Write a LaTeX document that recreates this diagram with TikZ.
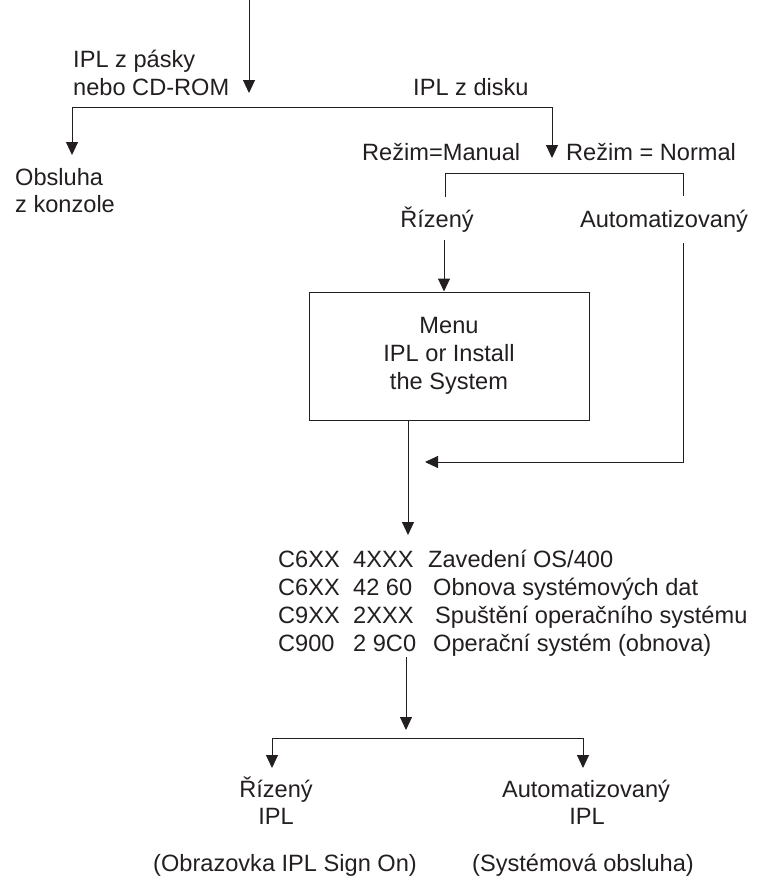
\documentclass[tikz,border=0pt]{standalone}
\usepackage{fontspec}
\setmainfont{Liberation Sans}
\usetikzlibrary{arrows.meta}
\definecolor{ink}{HTML}{231F20}
\begin{document}
\begin{tikzpicture}[x=1pt,y=-1pt,
  every node/.style={inner sep=0pt, text=ink, font=\fontsize{23.6}{28}\selectfont},
  lbl/.style={anchor=base west},
  ctr/.style={anchor=base},
  wire/.style={draw=ink, line width=1pt},
  flow/.style={wire, -{Triangle[width=12pt,length=13pt]}},
  panel/.style={draw=ink, line width=1pt, minimum width=280pt, minimum height=128pt, align=center}
]
\useasboundingbox (0,0) rectangle (756,884);

% --- entry and first split -------------------------------------------
\coordinate (entry) at (249,0);
\coordinate (entryTip) at (249,93);
\coordinate (splitL) at (72,107);
\coordinate (splitR) at (552,107);
\coordinate (consoleTip) at (72,155);
\coordinate (diskTip) at (552,158);

\draw[flow] (entry) -- (entryTip);
\draw[wire] (splitL) -- (splitR);
\draw[flow] (splitL) -- (consoleTip);
\draw[flow] (splitR) -- (diskTip);

\node[lbl] (tape1) at (73,67) {IPL z pásky};
\node[lbl] (tape2) at (73,95) {nebo CD-ROM};
\node[lbl] (disk) at (413,95) {IPL z disku};
\node[lbl] (console1) at (15,185) {Obsluha};
\node[lbl] (console2) at (15,212) {z konzole};

\node[lbl] (modeM) at (362,160) {Režim=Manual};
\node[lbl] (modeN) at (566,160) {Režim = Normal};

% --- mode bracket --------------------------------------------------------
\coordinate (brL) at (445,197);
\coordinate (brLt) at (445,173);
\coordinate (brRt) at (683,173);
\coordinate (brR) at (683,196);
\draw[wire] (brL) -- (brLt) -- (brRt) -- (brR);

\node[ctr] (manual) at (437,227) {Řízený};
\node[ctr] (auto) at (664,227) {Automatizovaný};

% --- menu box ------------------------------------------------------------
\coordinate (manualOut) at (444,240);
\node[panel] (menu) at (449,356) {Menu\\IPL or Install\\the System};
\draw[flow] (manualOut) -- (menu.north -| manualOut);

\coordinate (menuOut) at (408,420);
\coordinate (codesTip) at (408,535);
\draw[flow] (menuOut) -- (codesTip);

\coordinate (autoOut) at (683,243);
\coordinate (autoBend) at (683,462);
\coordinate (autoTip) at (425,462);
\draw[flow] (autoOut) -- (autoBend) -- (autoTip);

% --- reference codes -----------------------------------------------------
\node[lbl] (c1a) at (278,567) {C6XX};
\node[lbl] (c1b) at (353,567) {4XXX};
\node[lbl] (c1c) at (428,567) {Zavedení OS/400};
\node[lbl] (c2a) at (278,595) {C6XX};
\node[lbl] (c2b) at (353,595) {42 60};
\node[lbl] (c2c) at (433,595) {Obnova systémových dat};
\node[lbl] (c3a) at (278,623) {C9XX};
\node[lbl] (c3b) at (353,623) {2XXX};
\node[lbl] (c3c) at (435,623) {Spuštění operačního systému};
\node[lbl] (c4a) at (278,651) {C900};
\node[lbl] (c4b) at (353,651) {2 9C0};
\node[lbl] (c4c) at (433,651) {Operační systém (obnova)};

% --- final split ---------------------------------------------------------
\coordinate (codesOut) at (406,657);
\coordinate (codesOutTip) at (406,730);
\draw[flow] (codesOut) -- (codesOutTip);

\coordinate (finL) at (272,738);
\coordinate (finR) at (583,738);
\coordinate (finLTip) at (272,768);
\coordinate (finRTip) at (583,768);
\draw[wire] (finL) -- (finR);
\draw[flow] (finL) -- (finLTip);
\draw[flow] (finR) -- (finRTip);

\node[ctr] (manIPL1) at (276,797) {Řízený};
\node[ctr] (manIPL2) at (276,824) {IPL};
\node[ctr] (autoIPL1) at (586,797) {Automatizovaný};
\node[ctr] (autoIPL2) at (587,824) {IPL};
\node[ctr] (manNote) at (285,871) {(Obrazovka IPL Sign On)};
\node[ctr] (autoNote) at (583,871) {(Systémová obsluha)};
\end{tikzpicture}
\end{document}
